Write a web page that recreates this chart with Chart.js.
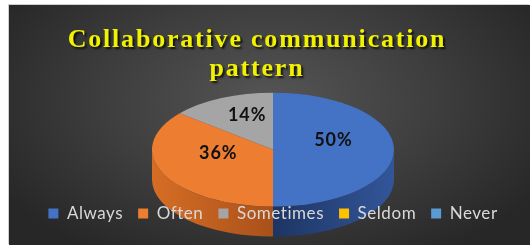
<!DOCTYPE html>
<html>
<head>
<meta charset="utf-8">
<script src="https://cdn.jsdelivr.net/npm/chart.js@4.4.0/dist/chart.umd.min.js"></script>
<style>
html, body { margin: 0; padding: 0; background: #fff; overflow: hidden; }
#box {
  position: absolute; left: 9px; top: 5px; width: 521px; height: 240px;
  background: radial-gradient(ellipse 60% 75% at 50% 40%, #555555 0%, #3d3d3d 55%, #272727 100%);
  box-shadow: -1px -1px 0 #cfcfcf;
}
</style>
</head>
<body>
<div id="box"><canvas id="myChart"></canvas></div>
<script>
var answers = ["Always", "Often", "Sometimes", "Seldom", "Never"]
var percent = [50, 36, 14, 0, 0]
var sliceColor = ["#4472C4", "#ED7D31", "#A5A5A5", "#FFC000", "#5B9BD5"]
var sideColor = [["#1d3563", "#33559a"], ["#d66d25", "#a9511a"], ["#7a7a7a", "#8c8c8c"], ["#b08500", "#c09000"], ["#3a6c9c", "#4a80b4"]]
var chartTitle = ["Collaborative communication", "pattern"]

function spaced(ctx, gap, fn) {
  ctx.save()
  ctx.letterSpacing = gap
  var out = fn()
  ctx.restore()
  return out
}

// squash the pie into an ellipse and paint the side wall under it
var tiltPlugin = {
  id: "tilt",
  beforeUpdate: function(chart) {
    var t = chart.titleBlock
    if (t && !t._spaced) {
      var drawTitle = t.draw.bind(t)
      t.draw = function() {
        var ctx = chart.ctx
        ctx.save()
        ctx.translate(-16, 0)
        ctx.letterSpacing = "1.8px"
        ctx.shadowColor = "rgba(0,0,0,0.75)"
        ctx.shadowOffsetX = 2
        ctx.shadowOffsetY = 2
        ctx.shadowBlur = 2
        drawTitle()
        ctx.restore()
      }
      t._spaced = true
    }
    var l = chart.legend
    if (l && !l._spaced) {
      var fitLegend = l.fit.bind(l)
      var drawLegend = l.draw.bind(l)
      l.fit = function() { return spaced(chart.ctx, "0.55px", fitLegend) }
      l.draw = function() {}
      l.drawOnTop = function() { spaced(chart.ctx, "0.55px", drawLegend) }
      l._spaced = true
    }
  },
  beforeDatasetsDraw: function(chart, args, opts) {
    var ctx = chart.ctx
    var meta = chart.getDatasetMeta(0)
    var first = meta.data[0]
    var cx = first.x, cy = first.y, r = first.outerRadius
    var k = opts.tilt
    ctx.save()
    ctx.translate(cx, cy)
    ctx.scale(1, k)
    ctx.translate(-cx, -cy)
    var d = opts.depth / k
    meta.data.forEach(function(arc, i) {
      var a0 = Math.max(arc.startAngle, 0)
      var a1 = Math.min(arc.endAngle, Math.PI)
      if (a1 <= a0) return
      var g = ctx.createLinearGradient(cx - r, 0, cx + r, 0)
      if (i == 0) {
        g.addColorStop(0.5, sideColor[i][0])
        g.addColorStop(1, sideColor[i][1])
      } else {
        g.addColorStop(0, sideColor[i][0])
        g.addColorStop(0.5, sideColor[i][1])
      }
      ctx.beginPath()
      ctx.arc(cx, cy, r, a0, a1)
      ctx.arc(cx, cy + d, r, a1, a0, true)
      ctx.closePath()
      ctx.fillStyle = g
      ctx.fill()
    })
  },
  afterDatasetsDraw: function(chart, args, opts) {
    var ctx = chart.ctx
    ctx.restore()
    var meta = chart.getDatasetMeta(0)
    var values = chart.data.datasets[0].data
    var total = values.reduce(function(a, b) { return a + b }, 0)
    ctx.save()
    ctx.letterSpacing = "1px"
    ctx.font = "bold 18px Lato"
    ctx.fillStyle = "#111"
    ctx.textAlign = "center"
    ctx.textBaseline = "middle"
    meta.data.forEach(function(arc, i) {
      if (!values[i]) return
      var mid = (arc.startAngle + arc.endAngle) / 2
      var rr = arc.outerRadius * 0.5
      var x = arc.x + Math.cos(mid) * rr
      var y = arc.y + Math.sin(mid) * rr * opts.tilt - opts.lift
      ctx.fillText(Math.round(values[i] / total * 100) + "%", x, y)
    })
    ctx.restore()
    chart.legend.drawOnTop()
  }
}

new Chart("myChart", {
  type: "pie",
  data: {
    labels: answers,
    datasets: [{
      data: percent,
      backgroundColor: sliceColor,
      borderWidth: 0,
      radius: 121,
      clip: false
    }]
  },
  options: {
    responsive: true,
    maintainAspectRatio: false,
    animation: false,
    events: [],
    layout: {padding: {left: 7, bottom: 13}},
    plugins: {
      tilt: {tilt: 0.471, depth: 30, lift: 9},
      tooltip: {enabled: false},
      title: {
        display: true,
        text: chartTitle,
        color: "#F2F200",
        font: {family: "Liberation Serif", size: 26, weight: "bold", lineHeight: 1.12},
        padding: {top: 21, bottom: 25}
      },
      legend: {
        position: "bottom",
        labels: {
          color: "#D9D9D9",
          boxWidth: 10,
          boxHeight: 10,
          padding: 15,
          font: {family: "Lato", size: 17}
        }
      }
    }
  },
  plugins: [tiltPlugin]
})
</script>
</body>
</html>
